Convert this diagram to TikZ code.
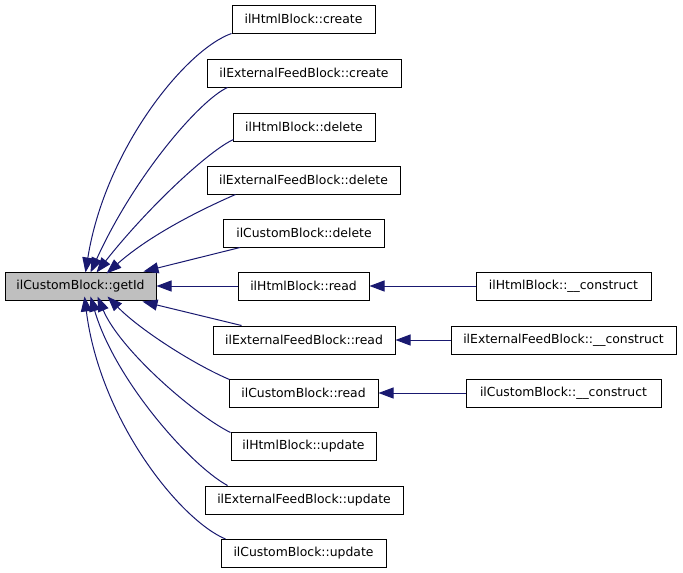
\documentclass[tikz,border=0pt]{standalone}
\usepackage{fontspec}
\setmainfont{DejaVu Sans}
\usetikzlibrary{arrows.meta,calc}
\definecolor{edgeblue}{HTML}{191970}
\definecolor{boxgray}{HTML}{BFBFBF}
\begin{document}
\begin{tikzpicture}[x=1pt,y=-1pt,
  fn/.style={draw=black,line width=1pt,inner sep=0pt,minimum height=28pt,fill=white,
    font=\fontsize{12.4}{14}\selectfont},
  cur/.style={fn,fill=boxgray},
  edge/.style={draw=edgeblue,line width=1pt,-{Triangle[length=15pt,width=11pt]}}]
\useasboundingbox (0,0) rectangle (683,573);
\fill[white] (0,0) rectangle (683,573);
% nodes
\node[cur,minimum width=151pt] (gid) at (80.5,286) {ilCustomBlock::getId};
\node[fn,minimum width=143pt] (hc) at (303.5,19) {ilHtmlBlock::create};
\node[fn,minimum width=194pt] (ec) at (304,73) {ilExternalFeedBlock::create};
\node[fn,minimum width=142pt] (hd) at (304,127) {ilHtmlBlock::delete};
\node[fn,minimum width=193pt] (ed) at (303.5,180) {ilExternalFeedBlock::delete};
\node[fn,minimum width=161pt] (cd) at (304,233) {ilCustomBlock::delete};
\node[fn,minimum width=131pt] (hr) at (303.5,286) {ilHtmlBlock::read};
\node[fn,minimum width=182pt] (er) at (304,340) {ilExternalFeedBlock::read};
\node[fn,minimum width=149pt] (cr) at (303.5,393) {ilCustomBlock::read};
\node[fn,minimum width=145pt] (hu) at (303.5,446) {ilHtmlBlock::update};
\node[fn,minimum width=198pt] (eu) at (304,500) {ilExternalFeedBlock::update};
\node[fn,minimum width=165pt] (cu) at (303.5,553.5) {ilCustomBlock::update};
\node[fn,minimum width=175pt] (hk) at (563.5,286) {ilHtmlBlock::\_\_construct};
\node[fn,minimum width=225pt] (ek) at (563.5,340) {ilExternalFeedBlock::\_\_construct};
\node[fn,minimum width=195pt] (ck) at (563.5,393) {ilCustomBlock::\_\_construct};
% target points on getId
\coordinate (t1) at ($(gid.north west)+(81,1)$);
\coordinate (t2) at ($(gid.north west)+(86,1)$);
\coordinate (t3) at ($(gid.north west)+(92,1)$);
\coordinate (t4) at ($(gid.north west)+(102,2)$);
\coordinate (t5) at ($(gid.north west)+(139,0)$);
\coordinate (b5) at ($(gid.south west)+(138,1)$);
\coordinate (b4) at ($(gid.south west)+(103,-4)$);
\coordinate (b3) at ($(gid.south west)+(93,-4)$);
\coordinate (b2) at ($(gid.south west)+(86,-4)$);
\coordinate (b1) at ($(gid.south west)+(80,-4)$);
% edges
\draw[edge] (hc.south west) .. controls (185,50) and (105,150) .. (t1);
\draw[edge] ($(ec.south west)+(21,0)$) .. controls (200,100) and (135,175) .. (t2);
\draw[edge] ($(hd.south west)+(1,-2)$) .. controls (210,150) and (150,205) .. (t3);
\draw[edge] ($(ed.south west)+(29,0)$) .. controls (200,210) and (150,235) .. (t4);
\draw[edge] ($(cd.south west)+(17,0)$) -- (t5);
\draw[edge] (hr.west) -- (gid.east);
\draw[edge] ($(er.north west)+(29,0)$) -- (b5);
\draw[edge] ($(cr.north west)+(1,1)$) .. controls (195,365) and (140,330) .. (b4);
\draw[edge] ($(hu.north west)+(0,1)$) .. controls (195,415) and (120,350) .. (b3);
\draw[edge] ($(eu.north west)+(23,0)$) .. controls (190,465) and (115,380) .. (b2);
\draw[edge] ($(cu.north west)+(5,0)$) .. controls (180,520) and (100,420) .. (b1);
\draw[edge] (hk.west) -- (hr.east);
\draw[edge] (ek.west) -- (er.east);
\draw[edge] (ck.west) -- (cr.east);
\end{tikzpicture}
\end{document}
